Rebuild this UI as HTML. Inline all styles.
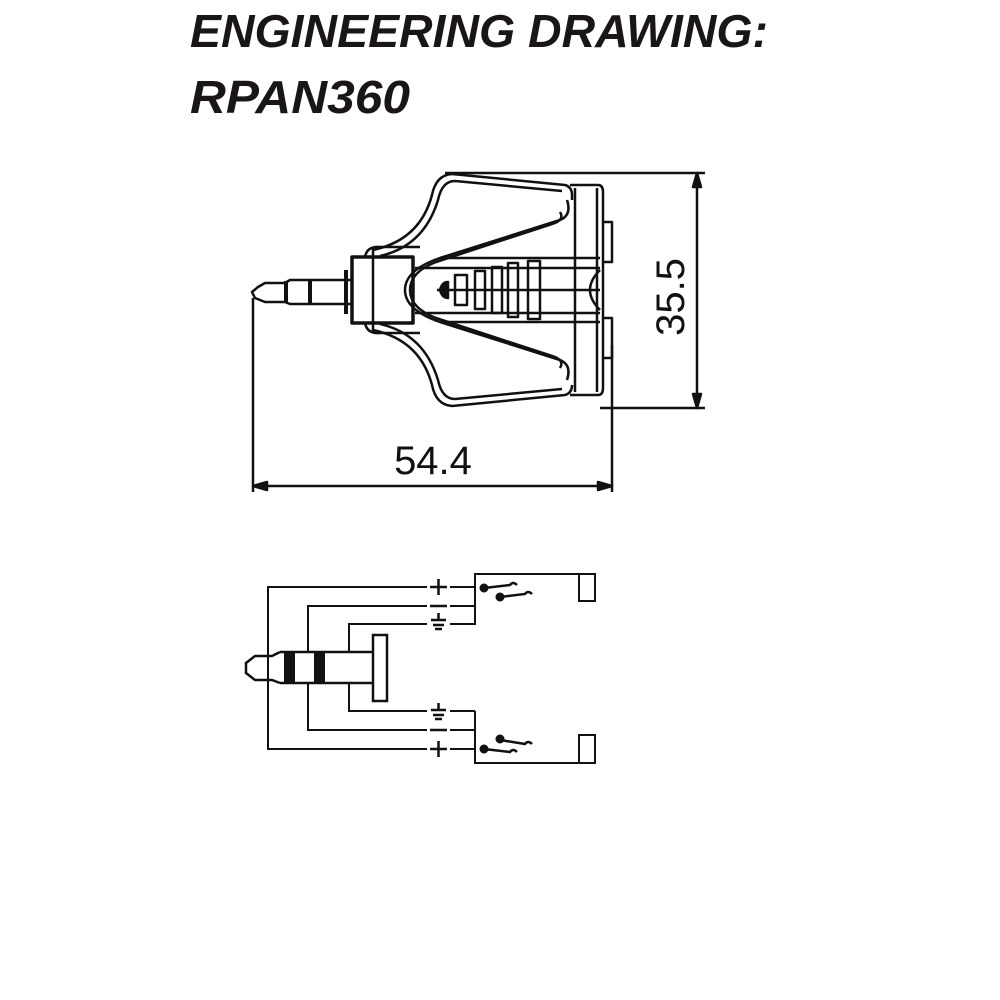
<!DOCTYPE html>
<html><head><meta charset="utf-8"><style>
html,body{margin:0;padding:0;background:#fff;}
svg{display:block;}
</style></head><body>
<svg width="1000" height="1000" viewBox="0 0 1000 1000" xmlns="http://www.w3.org/2000/svg">
<rect width="1000" height="1000" fill="#fff"/>
<g font-family="Liberation Sans, sans-serif" font-weight="bold" font-style="italic" fill="#1a1617">
<text x="190" y="47" font-size="46" textLength="578" lengthAdjust="spacingAndGlyphs">ENGINEERING DRAWING:</text>
<text x="190" y="113" font-size="46" textLength="220" lengthAdjust="spacingAndGlyphs">RPAN360</text>
</g>

<g fill="none" stroke="#111" stroke-width="2.5" stroke-linejoin="round">
<line x1="445" y1="173" x2="705" y2="173"/>
<line x1="600" y1="408" x2="705" y2="408"/>
<line x1="697" y1="175" x2="697" y2="406"/>
<path d="M697 173 l-4 14 h8 z M697 408 l-4 -14 h8 z" fill="#111"/>
<line x1="253" y1="298" x2="253" y2="492"/>
<line x1="612" y1="345" x2="612" y2="492"/>
<line x1="255" y1="486" x2="610" y2="486"/>
<path d="M253 486 l14 -4 v8 z M612 486 l-14 -4 v8 z" fill="#111"/>

<path d="M352 280 L290 280 L285 283 L265 283 L258 287 L252 292 L255 298 L265 302 L285 302 L290 304 L352 304"/>
<line x1="286" y1="281" x2="286" y2="303" stroke-width="4"/>
<line x1="310" y1="281" x2="310" y2="303" stroke-width="4"/>
<line x1="346" y1="270" x2="346" y2="314" stroke-width="4"/>
<path d="M352 257 H413 V323 H352 Z" stroke-width="3.5"/>
<path d="M373 247 L373 333" />
<path d="M365 257 Q367 246 380 247 L420 247"/>
<path d="M365 323 Q367 334 380 333 L420 333"/>
<path d="M373 250 Q420 240 432 195 Q436 175 452 174 L565 185 Q572 187 572 195 L572 200"/>
<path d="M380 256 Q424 246 438 200 Q442 181 455 181 L562 191"/>
<path d="M373 330 Q420 340 432 385 Q436 405 452 406 L565 395 Q572 393 572 385"/>
<path d="M380 324 Q424 334 438 380 Q442 399 455 399 L562 389"/>
<path d="M570 185 H598 Q603 185 603 192 V388 Q603 395 598 395 H570"/>
<path d="M575 188 V392 M597 188 V392"/>
<path d="M603 222 H612 V262 H603 M603 318 H612 V358 H603"/>
<path d="M567 200 Q572 215 560 220 L440 258 Q405 270 405 290 Q405 310 440 322 L560 360 Q572 365 567 380"/>
<path d="M560 212 Q565 220 552 224 L436 262 Q410 272 410 290 Q410 308 436 318 L552 356 Q565 360 560 368"/>
<line x1="440" y1="258" x2="600" y2="258"/>
<line x1="440" y1="322" x2="600" y2="322"/>
<line x1="415" y1="268" x2="600" y2="268"/>
<line x1="415" y1="313" x2="600" y2="313"/>
<path d="M600 270 Q590 280 590 290 Q590 300 600 310"/>
<path d="M440 290 Q442 282 448 282 V298 Q442 298 440 290 Z" fill="#111"/>
<line x1="437" y1="290" x2="600" y2="290"/>
<rect x="455" y="275" width="12" height="30"/>
<rect x="475" y="271" width="10" height="38"/>
<rect x="492" y="267" width="10" height="46"/>
<rect x="508" y="263" width="10" height="54"/>
<rect x="528" y="261" width="12" height="58"/>
</g>
<text x="433" y="474" font-family="Liberation Sans, sans-serif" font-size="40" text-anchor="middle" fill="#111">54.4</text>
<text transform="translate(684,297) rotate(-90)" font-family="Liberation Sans, sans-serif" font-size="40" text-anchor="middle" fill="#111">35.5</text>

<g fill="none" stroke="#111" stroke-width="2">
<path d="M427 587 H268 V749 H427"/>
<path d="M427 606 H308 V652 M308 683 V730 H427"/>
<path d="M427 624 H349 V652 M349 683 V711 H427"/>
<path d="M450 587 H475 M450 606 H475 M450 624 H475 V574 H595 V601 H579 V574"/>
<path d="M450 711 H475 M450 730 H475 M450 749 H475 V763 H595 V735 H579 V763 M475 711 V763"/>
</g>
<g fill="none" stroke="#111" stroke-width="2.5">
<path d="M430 587 H447 M438.5 579 V595 M430 606 H447"/>
<path d="M438.5 613 V620 M431 620 H446 M433 625 H444 M435 629 H442"/>
<path d="M438.5 703 V710 M431 710 H446 M433 715 H444 M435 719 H442"/>
<path d="M430 730 H447 M430 749 H447 M438.5 741 V757"/>
<path d="M484 588 L510 585 Q513 581 517 585 M500 597 L525 594 Q528 590 532 594"/>
<path d="M500 740 L525 744 Q528 740 532 744 M484 749 L510 752 Q513 748 517 752"/>
<path d="M280 652 H374 M280 683 H374 M280 652 L272 656 H255 L246 663 V673 L255 680 H272 L280 683"/>
<rect x="373" y="635" width="14" height="66"/>
</g>
<rect x="284" y="652" width="11" height="31" fill="#111"/>
<rect x="314" y="652" width="11" height="31" fill="#111"/>
<circle cx="484" cy="588" r="4.5" fill="#111"/>
<circle cx="500" cy="597" r="4.5" fill="#111"/>
<circle cx="500" cy="739" r="4.5" fill="#111"/>
<circle cx="484" cy="749" r="4.5" fill="#111"/>
</svg>
</body></html>
